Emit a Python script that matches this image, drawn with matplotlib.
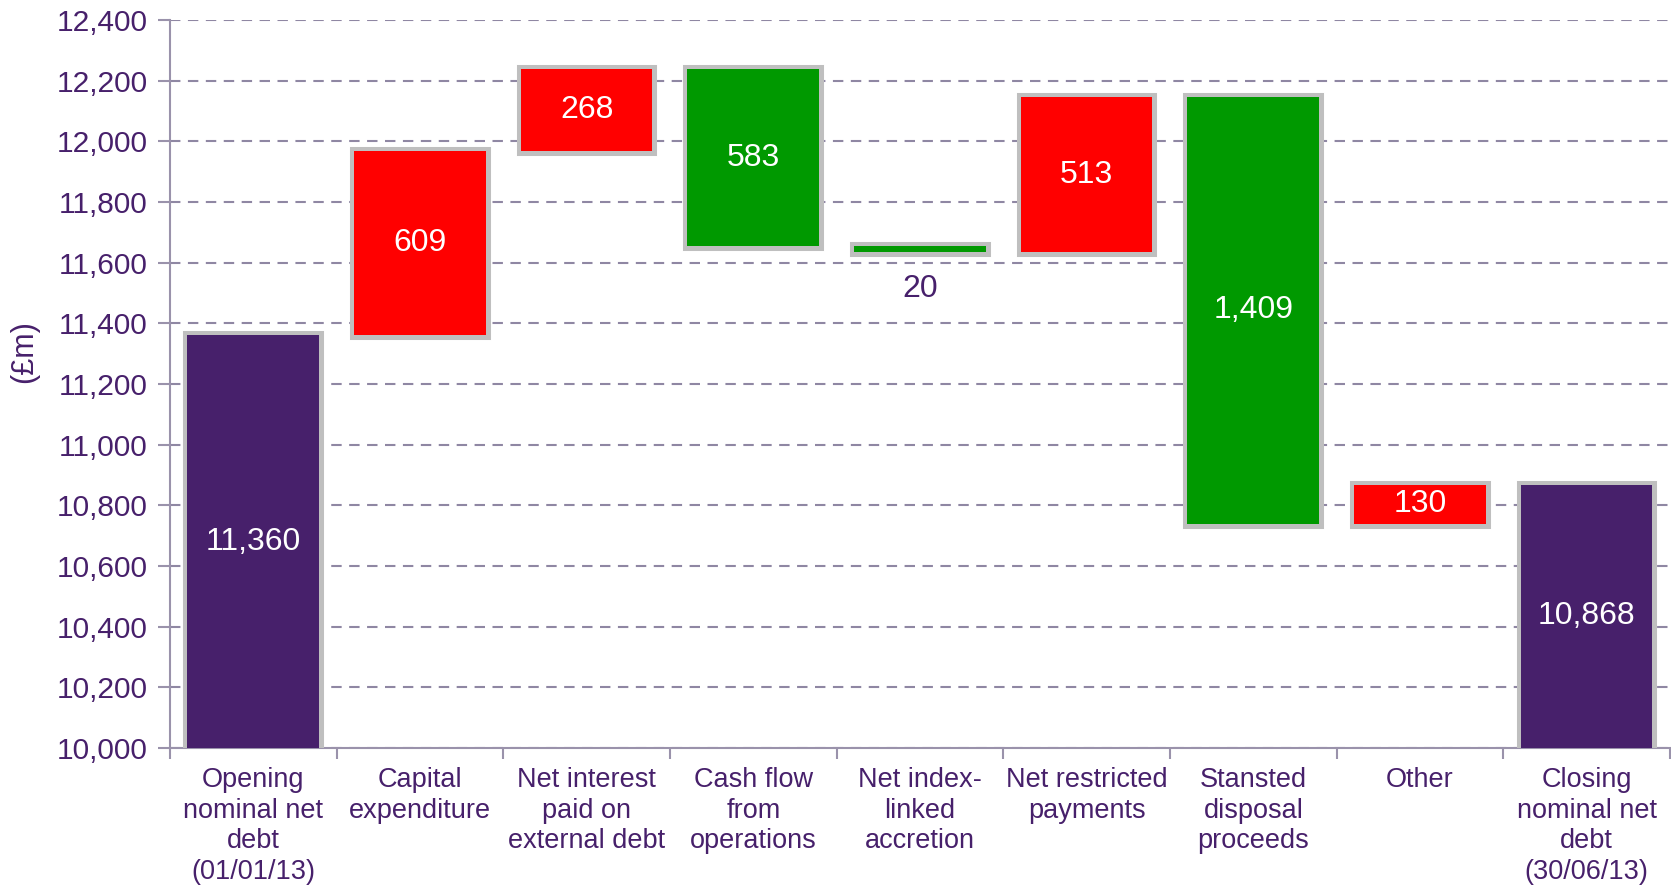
import matplotlib.pyplot as plt
from matplotlib.ticker import FuncFormatter, MultipleLocator
import numpy as np

plt.rcParams['font.family'] = ['Liberation Sans', 'DejaVu Sans']

# ---------------- DATA ----------------
categories = [
    "Opening\nnominal net\ndebt\n(01/01/13)",
    "Capital\nexpenditure",
    "Net interest\npaid on\nexternal debt",
    "Cash flow\nfrom\noperations",
    "Net index-\nlinked\naccretion",
    "Net restricted\npayments",
    "Stansted\ndisposal\nproceeds",
    "Other",
    "Closing\nnominal net\ndebt\n(30/06/13)",
]
opening = 11360
changes = [609, 268, -583, -20, 513, -1409, 130]
closing = 10868
value_labels = ["11,360", "609", "268", "583", "20", "513", "1,409", "130", "10,868"]

PURPLE = "#47206b"
RED = "#ff0000"
GREEN = "#009900"
EDGE = "#bfbfbf"
AXIS = "#9a92ab"
GRID = "#8f87a3"

# ---------------- WATERFALL GEOMETRY ----------------
bottoms, heights, colors = [10000], [opening - 10000], [PURPLE]
level = opening
for c in changes:
    lo = min(level, level + c)
    bottoms.append(lo)
    heights.append(abs(c))
    colors.append(RED if c > 0 else GREEN)
    level += c
bottoms.append(10000)
heights.append(closing - 10000)
colors.append(PURPLE)

x = np.arange(len(categories))

fig = plt.figure(figsize=(16.71, 8.86), dpi=100)
ax = fig.add_axes([0.1017, 0.1558, 0.8977, 0.8216])

w = 0.79
# grey frame under, fill on top (so the frame sits outside the fill)
ax.bar(x, heights, w, bottom=bottoms, color="none", edgecolor=EDGE,
       linewidth=6.5, zorder=3)
ax.bar(x, heights, w, bottom=bottoms, color=colors, linewidth=0, zorder=4)

for i, (b, h, lab) in enumerate(zip(bottoms, heights, value_labels)):
    if h < 60:
        ax.text(x[i], b - 120, lab, ha="center", va="center",
                fontsize=23, color=PURPLE, zorder=5)
    else:
        ax.text(x[i], b + h / 2, lab, ha="center", va="center",
                fontsize=23, color="white", zorder=5)

ax.set_ylim(10000, 12400)
ax.set_xlim(-0.5, len(categories) - 0.5)
ax.yaxis.set_major_locator(MultipleLocator(200))
ax.yaxis.set_major_formatter(FuncFormatter(lambda v, p: f"{v:,.0f}"))
ax.grid(axis="y", color=GRID, linestyle=(0, (5, 3.6)), linewidth=1.5, zorder=1)
ax.set_axisbelow(True)

ax.set_xticks(x)
ax.set_xticklabels(categories, fontsize=19.5, color=PURPLE, linespacing=1.22)
ax.set_xticks(np.arange(len(categories) + 1) - 0.5, minor=True)
ax.tick_params(axis="x", which="major", length=0, pad=14)
ax.tick_params(axis="x", which="minor", length=8, width=1.5, color=AXIS)
ax.tick_params(axis="y", length=9, width=1.5, color=AXIS, labelsize=21.5,
               labelcolor=PURPLE, pad=7)

for s in ["top", "right"]:
    ax.spines[s].set_visible(False)
for s in ["left", "bottom"]:
    ax.spines[s].set_color(AXIS)
    ax.spines[s].set_linewidth(1.5)

ax.set_ylabel("(£m)", fontsize=22, color=PURPLE)
ax.yaxis.set_label_coords(-0.087, 0.545)

fig.savefig("out.png", dpi=100)
